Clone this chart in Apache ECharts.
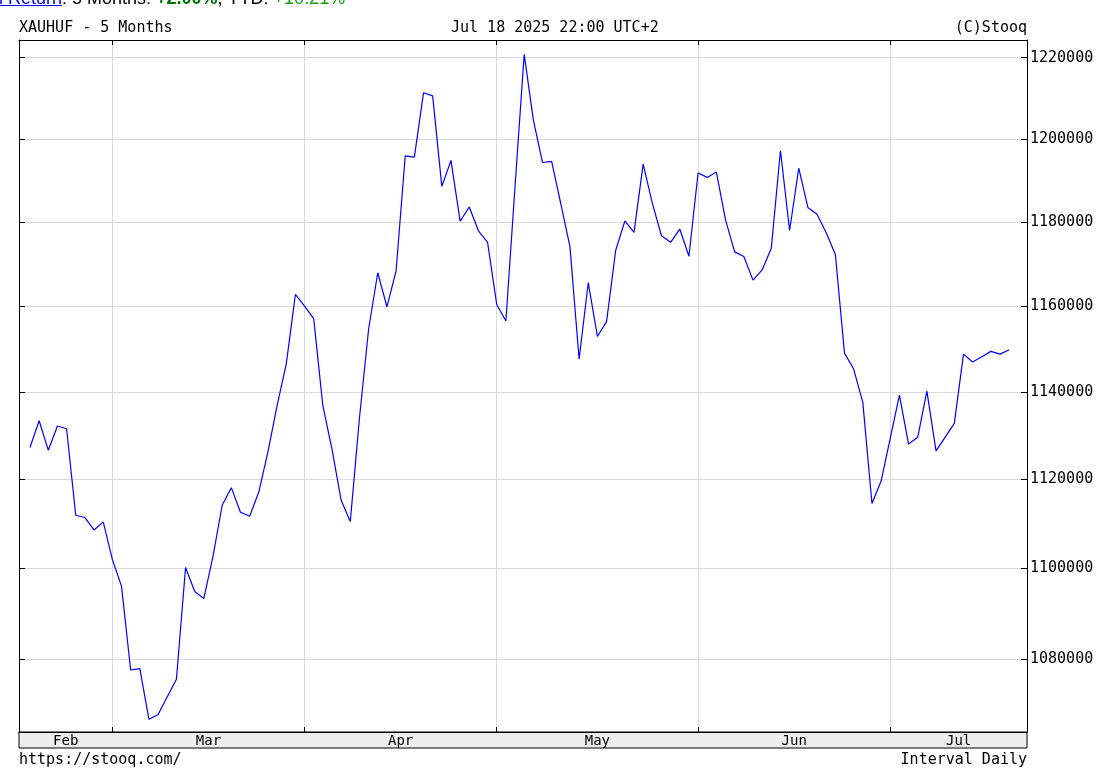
<!DOCTYPE html>
<html><head><meta charset="utf-8">
<script src="https://cdn.jsdelivr.net/npm/echarts@6/dist/echarts.min.js"></script>
<style>html,body{margin:0;padding:0;background:#fff;overflow:hidden}#c{width:1097px;height:769px}</style>
</head><body><div id="c"></div>
<script>
// ---- data ----
const monthNames = ['Feb', 'Mar', 'Apr', 'May', 'Jun', 'Jul'];
const tradingDaysPerMonth = [9, 21, 21, 22, 21, 14]; // Feb 18 .. Jul 18 2025
const prices = [
  1127300, 1133450, 1126700, 1132230, 1131610, 1111940, 1111420, 1108630, 1110430, 1102030,
  1096070, 1077600, 1077880, 1066880, 1067910, 1071760, 1075560, 1100230, 1094890, 1093330,
  1102770, 1114190, 1118170, 1112610, 1111710, 1117180, 1126320, 1136900, 1146540, 1162830,
  1160070, 1157150, 1136900, 1126940, 1115310, 1110520, 1134070, 1154660, 1167960, 1159930,
  1168330, 1195980, 1195670, 1211350, 1210610, 1188580, 1194850, 1180240, 1183620, 1177940,
  1175180, 1160470, 1156590, 1188600, 1220830, 1204730, 1194360, 1194650, 1184410, 1174170,
  1147700, 1165600, 1152970, 1156450, 1173290, 1180310, 1177540, 1193980, 1184580, 1176760,
  1175180, 1178350, 1171880, 1191810, 1190750, 1192050, 1180550, 1172910, 1171800, 1166210,
  1168620, 1173760, 1197260, 1178010, 1192970, 1183520, 1181880, 1177470, 1172280, 1149090,
  1145380, 1137680, 1114570, 1119660, 1129470, 1139360, 1128090, 1129630, 1140280, 1126550,
  1129700, 1132850, 1148860, 1147010, 1148240, 1149490, 1148860, 1149860
];
const yTickValues = [1080000, 1100000, 1120000, 1140000, 1160000, 1180000, 1200000, 1220000];

// ---- derived ----
const monthStart = [];
let acc = 0;
tradingDaysPerMonth.forEach(n => { monthStart.push(acc); acc += n; });
const boundaries = monthStart.slice(1);
const xMin = -1.2, xMax = 108.94;
const yMin = 1064135, yMax = 1224385;
const labelPos = monthNames.map((m, i) => {
  const a = i === 0 ? xMin : monthStart[i];
  const b = i === monthNames.length - 1 ? xMax : monthStart[i + 1];
  return (a + b) / 2;
});
const monthLabel = v => {
  let best = 0;
  labelPos.forEach((p, i) => { if (Math.abs(p - v) < Math.abs(labelPos[best] - v)) best = i; });
  return monthNames[best];
};

const MONO = '"DejaVu Sans Mono", monospace';
const chart = echarts.init(document.getElementById('c'), null, { renderer: 'canvas' });
chart.setOption({
  animation: false,
  backgroundColor: '#ffffff',
  grid: { left: 19, right: 70, top: 40, bottom: 37, show: false },
  xAxis: [
    {
      type: 'value', position: 'bottom', min: xMin, max: xMax,
      axisLine: { show: true, onZero: false, lineStyle: { color: '#000', width: 1 } },
      axisTick: { show: true, inside: true, length: 5, customValues: boundaries, lineStyle: { color: '#000' } },
      splitLine: { show: true, lineStyle: { color: '#d9d9d9', width: 1 } },
      axisLabel: { show: true, customValues: labelPos, formatter: monthLabel, margin: 2,
        fontFamily: MONO, fontSize: 14, color: '#000' }
    },
    {
      type: 'value', position: 'top', min: xMin, max: xMax,
      axisLine: { show: true, onZero: false, lineStyle: { color: '#000', width: 1 } },
      axisTick: { show: true, inside: true, length: 5, customValues: boundaries, lineStyle: { color: '#000' } },
      splitLine: { show: false }, axisLabel: { show: false }
    }
  ],
  yAxis: [
    {
      type: 'log', logBase: 10, position: 'right', min: yMin, max: yMax,
      axisLine: { show: true, onZero: false, lineStyle: { color: '#000', width: 1 } },
      axisTick: { show: true, inside: true, length: 6, customValues: yTickValues, lineStyle: { color: '#000' } },
      splitLine: { show: true, lineStyle: { color: '#d9d9d9', width: 1 } },
      axisLabel: { show: true, customValues: yTickValues, formatter: v => String(Math.round(v)), margin: 3,
        fontFamily: MONO, fontSize: 15, color: '#000' }
    },
    {
      type: 'log', logBase: 10, position: 'left', min: yMin, max: yMax,
      axisLine: { show: true, onZero: false, lineStyle: { color: '#000', width: 1 } },
      axisTick: { show: true, inside: true, length: 6, customValues: yTickValues, lineStyle: { color: '#000' } },
      splitLine: { show: false }, axisLabel: { show: false }
    }
  ],
  series: [{
    type: 'line', xAxisIndex: 0, yAxisIndex: 0,
    data: prices.map((v, i) => [i, v]),
    showSymbol: false, symbol: 'none',
    lineStyle: { color: '#0000ff', width: 1.2 },
    z: 5
  }],
  graphic: [
    { type: 'rect', z: -1, shape: { x: 19, y: 732, width: 1008, height: 16 },
      style: { fill: '#eeeeee', stroke: '#000', lineWidth: 1 } },
    { type: 'text', x: 19, y: 28, style: { text: 'XAUHUF - 5 Months', font: '15px ' + MONO, fill: '#000', align: 'left', verticalAlign: 'middle' } },
    { type: 'text', x: 451, y: 28, style: { text: 'Jul 18 2025 22:00 UTC+2', font: '15px ' + MONO, fill: '#000', align: 'left', verticalAlign: 'middle' } },
    { type: 'text', x: 1027, y: 28, style: { text: '(C)Stooq', font: '15px ' + MONO, fill: '#000', align: 'right', verticalAlign: 'middle' } },
    { type: 'text', x: 19, y: 760, style: { text: 'https://stooq.com/', font: '15px ' + MONO, fill: '#000', align: 'left', verticalAlign: 'middle' } },
    { type: 'text', x: 1027, y: 760, style: { text: 'Interval Daily', font: '15px ' + MONO, fill: '#000', align: 'right', verticalAlign: 'middle' } },
    { type: 'text', x: 62, y: 8, style: { text: 'Total Return', font: '18px "Liberation Sans", Arial, sans-serif', fill: '#0000ee', align: 'right', verticalAlign: 'bottom' } },
    { type: 'line', shape: { x1: 0, y1: 5.5, x2: 62, y2: 5.5 }, style: { stroke: '#0000ee', lineWidth: 1 } },
    { type: 'text', x: 62, y: 8, style: {
        text: '{b|: 5 Months: }{g|+2.00%}{b|, YTD: }{h|+10.21%}',
        align: 'left', verticalAlign: 'bottom',
        rich: {
          b: { font: '18px "Liberation Sans", Arial, sans-serif', fill: '#000' },
          g: { font: 'bold 18px "Liberation Sans", Arial, sans-serif', fill: '#007000' },
          h: { font: '18px "Liberation Sans", Arial, sans-serif', fill: '#1a9a1a' }
        } } }
  ]
});
</script>
</body></html>
